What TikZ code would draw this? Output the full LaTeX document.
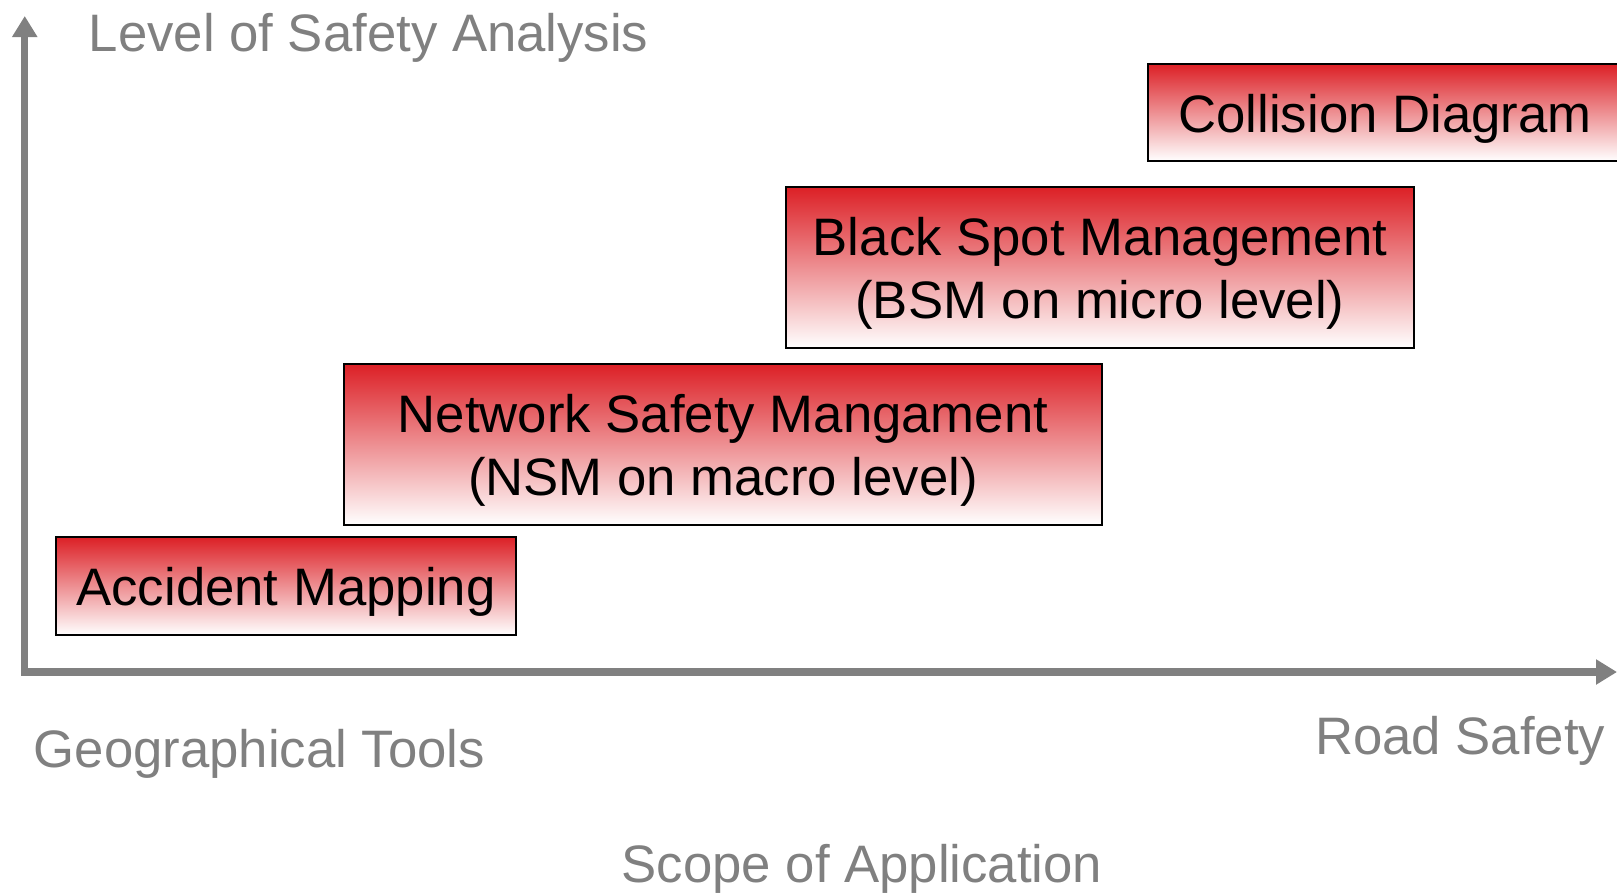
\documentclass[tikz,border=0pt]{standalone}
\usepackage{fontspec}
\setmainfont{Liberation Sans}
\usetikzlibrary{arrows.meta, positioning}
\definecolor{myred}{HTML}{DC2026}
\definecolor{mygray}{HTML}{808080}

\begin{document}
\begin{tikzpicture}[every node/.style={font=\fontsize{15}{18}\selectfont},
    stage/.style={draw=black, line width=0.7pt, top color=myred, bottom color=white, inner sep=0pt, align=center, text height=14.3pt},
    twoline/.style={text height=32pt},
    axislabel/.style={mygray, inner sep=0pt, anchor=base west},
    axis/.style={mygray, line width=2pt, -{Triangle[length=0.21cm, width=0.24cm]}}]
    \useasboundingbox (0,0) rectangle (16.17,-8.92);
    \clip (0,0) rectangle (16.17,-8.92);
    \coordinate (origin) at (0.2475,-6.72);
    \coordinate (ytip) at (0.2475,-0.16);
    \coordinate (xtip) at (16.17,-6.72);
    \draw[axis] ([yshift=-1pt]origin) -- (ytip);
    \draw[axis] ([xshift=-1pt]origin) -- (xtip);
    \node[stage, minimum width=4.60cm, minimum height=0.98cm] (accident) at (2.86,-5.86) {Accident Mapping};
    \node[stage, twoline, minimum width=7.58cm, minimum height=1.61cm] (network) at (7.23,-4.445) {Network Safety Mangament\\(NSM on macro level)};
    \node[stage, twoline, minimum width=6.28cm, minimum height=1.61cm] (blackspot) at (11.00,-2.675) {Black Spot Management\\(BSM on micro level)};
    \node[stage, minimum width=4.74cm, minimum height=0.97cm] (collision) at (13.85,-1.125) {Collision Diagram};
    \node[axislabel] (level) at (0.88,-0.516) {Level of Safety Analysis};
    \node[axislabel] (geo) at (0.33,-7.67) {Geographical Tools};
    \node[axislabel, anchor=base east] (road) at (16.06,-7.54) {Road Safety};
    \node[axislabel, anchor=base] (scope) at (8.62,-8.82) {Scope of Application};
  \end{tikzpicture}
\end{document}
